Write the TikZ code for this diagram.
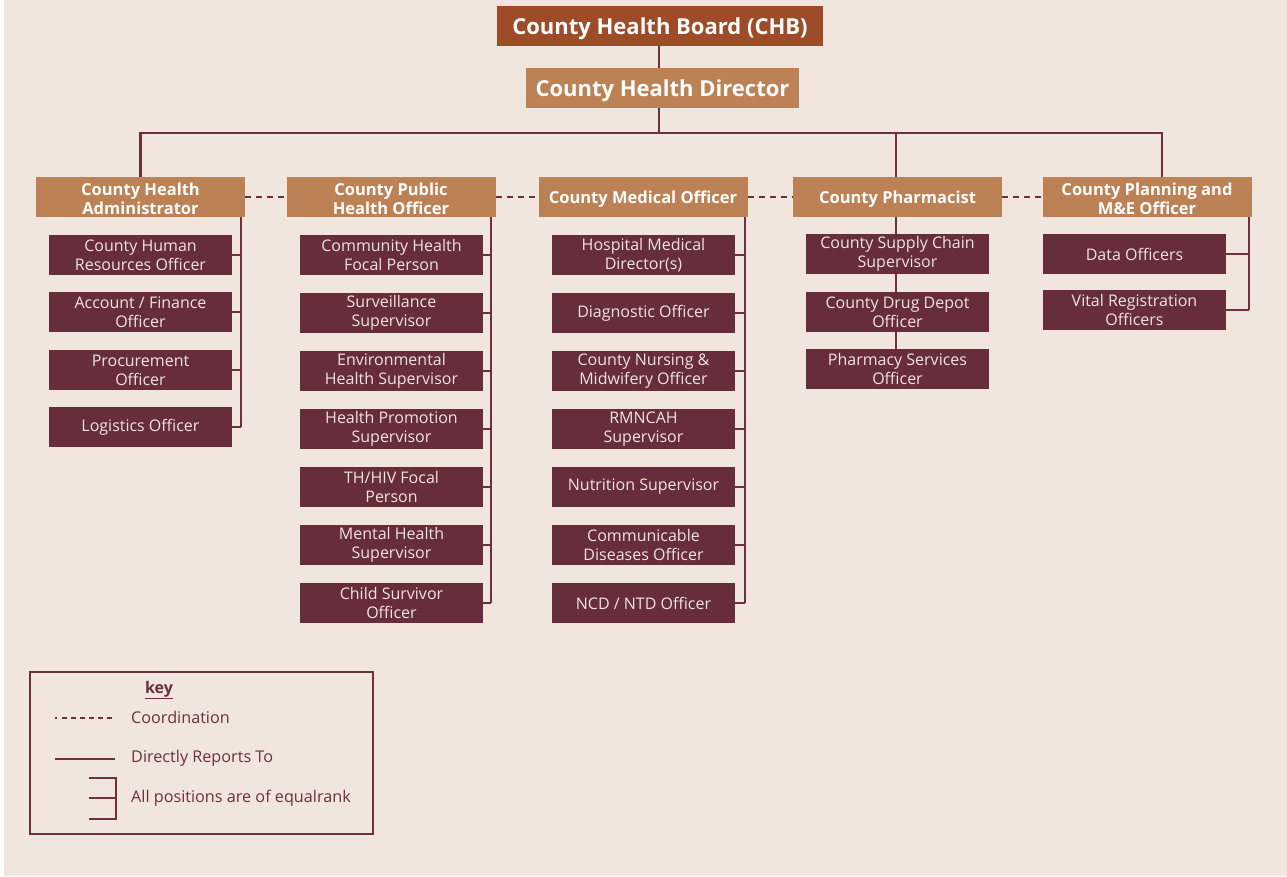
\documentclass[tikz,border=0pt]{standalone}
\usepackage{fontspec}
\setmainfont{Open Sans}
\definecolor{bg}{RGB}{240,230,222}
\definecolor{chbc}{RGB}{157,75,40}
\definecolor{headc}{RGB}{188,130,86}
\definecolor{subc}{RGB}{103,45,59}
\definecolor{linec}{RGB}{108,48,62}
\definecolor{subtext}{RGB}{240,228,222}
\newcommand\hup{\rule{0pt}{17pt}}
\begin{document}
\begin{tikzpicture}[x=1pt,y=-1pt,
  topbox/.style={fill=chbc,text=white,font=\bfseries\fontsize{22}{26}\selectfont,minimum width=326pt,minimum height=40pt,inner sep=0pt,execute at begin node={\rule{0pt}{22pt}}},
  dirbox/.style={fill=headc,text=white,font=\bfseries\fontsize{22}{26}\selectfont,minimum width=273pt,minimum height=40pt,inner sep=0pt,execute at begin node={\rule{0pt}{22pt}}},
  headbox/.style={fill=headc,text=white,font=\bfseries\fontsize{16.5}{19}\selectfont,minimum width=209pt,minimum height=40pt,inner sep=0pt,align=center},
  subbox/.style={fill=subc,text=subtext,font=\fontsize{16}{19}\selectfont,minimum width=183pt,minimum height=40pt,inner sep=0pt,align=center},
  conn/.style={draw=linec,line width=2.3pt},
  coordl/.style={draw=linec,line width=2.3pt,dash pattern=on 6pt off 5pt},
  keytext/.style={text=linec,font=\fontsize{16.2}{19}\selectfont,anchor=west,inner sep=0pt}
]
\useasboundingbox (0,0) rectangle (1287,877);
\fill[white] (0,0) rectangle (1287,877);
\fill[bg] (4,0) rectangle (1287,876);

% top
\node[topbox] (chb) at (660,26) {County Health Board (CHB)};
\node[dirbox] (dir) at (662.5,88) {County Health Director};
\coordinate (bus) at (659,133);

% heads
\node[headbox] (adm) at (140.5,197) {\hup County Health\\Administrator};
\node[headbox] (pub) at (391,197) {\hup County Public\\Health Officer};
\node[headbox] (med) at (643,197) {\hup County Medical Officer};
\node[headbox] (pha) at (897.5,197) {\hup County Pharmacist};
\node[headbox] (pla) at (1147,197) {\hup County Planning and\\M\&E Officer};

% column 1
\node[subbox] (a1) at (140.5,255) {County Human\\Resources Officer};
\node[subbox] (a2) at (140.5,312) {Account / Finance\\Officer};
\node[subbox] (a3) at (140.5,370) {Procurement\\Officer};
\node[subbox] (a4) at (140.5,427) {Logistics Officer};

% column 2
\node[subbox] (b1) at (391.5,255) {Community Health\\Focal Person};
\node[subbox] (b2) at (391.5,313) {Surveillance\\Supervisor};
\node[subbox] (b3) at (391.5,371) {Environmental\\Health Supervisor};
\node[subbox] (b4) at (391.5,429) {Health Promotion\\Supervisor};
\node[subbox] (b5) at (391.5,487) {TH/HIV Focal\\Person};
\node[subbox] (b6) at (391.5,545) {Mental Health\\Supervisor};
\node[subbox] (b7) at (391.5,603) {Child Survivor\\Officer};

% column 3
\node[subbox] (c1) at (643.5,255) {Hospital Medical\\Director(s)};
\node[subbox] (c2) at (643.5,313) {Diagnostic Officer};
\node[subbox] (c3) at (643.5,371) {County Nursing \&\\Midwifery Officer};
\node[subbox] (c4) at (643.5,429) {RMNCAH\\Supervisor};
\node[subbox] (c5) at (643.5,487) {Nutrition Supervisor};
\node[subbox] (c6) at (643.5,545) {Communicable\\Diseases Officer};
\node[subbox] (c7) at (643.5,603) {NCD / NTD Officer};

% column 4
\node[subbox] (d1) at (897.5,254) {County Supply Chain\\Supervisor};
\node[subbox] (d2) at (897.5,312) {County Drug Depot\\Officer};
\node[subbox] (d3) at (897.5,369) {Pharmacy Services\\Officer};

% column 5
\node[subbox] (e1) at (1134.5,254) {Data Officers};
\node[subbox] (e2) at (1134.5,310) {Vital Registration\\Officers};

% main connectors
\draw[conn] (chb.south -| bus) -- (dir.north -| bus);
\draw[conn] (dir.south -| bus) -- (bus);
\draw[conn] (adm.north) |- (bus);
\draw[conn] (bus) -| ([xshift=15pt]pla.north);
\draw[conn] ([xshift=-1.5pt]pha.north) -- ([xshift=-1.5pt]pha.north |- bus);

% coordination
\draw[coordl] (adm.east) -- (pub.west);
\draw[coordl] (pub.east) -- (med.west);
\draw[coordl] (med.east) -- (pha.west);
\draw[coordl] (pha.east) -- (pla.west);

% rails
\coordinate (r1) at (241,217);
\coordinate (r2) at (491,217);
\coordinate (r3) at (745,217);
\coordinate (r5) at (1249,217);
\draw[conn] (r1) -- (r1 |- a4.east);
\foreach \n in {a1,a2,a3,a4} \draw[conn] (\n.east) -- (\n.east -| r1);
\draw[conn] (r2) -- (r2 |- b7.east);
\foreach \n in {b1,b2,b3,b4,b5,b6,b7} \draw[conn] (\n.east) -- (\n.east -| r2);
\draw[conn] (r3) -- (r3 |- c7.east);
\foreach \n in {c1,c2,c3,c4,c5,c6,c7} \draw[conn] (\n.east) -- (\n.east -| r3);
\draw[conn] (r5) -- (r5 |- e2.east);
\foreach \n in {e1,e2} \draw[conn] (\n.east) -- (\n.east -| r5);
\draw[conn] ([xshift=-1.5pt]pha.south) -- ([xshift=-1.5pt]d1.north);
\draw[conn] ([xshift=-1.5pt]d1.south) -- ([xshift=-1.5pt]d2.north);
\draw[conn] ([xshift=-1.5pt]d2.south) -- ([xshift=-1.5pt]d3.north);

% key
\draw[draw=linec,line width=2.2pt] (30,672) rectangle (373,834);
\node[text=linec,font=\bfseries\fontsize{16}{19}\selectfont,inner sep=0pt] (keyt) at (159,690) {\underline{key}};
\node[keytext] (k1) at (131,717) {Coordination};
\node[keytext] (k2) at (131,758) {Directly Reports To};
\node[keytext] (k3) at (131,798) {All positions are of equalrank};
\coordinate (kd1) at (55,718);
\coordinate (ks1) at (55,759);
\draw[draw=linec,line width=2.3pt,dash pattern=on 2pt off 5pt on 5pt off 4pt on 5pt off 4pt on 5pt off 4pt on 5pt off 4pt on 5pt off 4pt on 5pt off 4pt] (kd1) -- ([xshift=-19pt]kd1 -| k1.west);
\draw[conn] (ks1) -- ([xshift=-16pt]ks1 -| k2.west);
\coordinate (kb1) at (89,778);
\coordinate (kb2) at (89,798);
\coordinate (kb3) at (89,819);
\coordinate (kbr) at (116,778);
\draw[conn] (kb1) -- (kbr) -- (kbr |- kb3) -- (kb3);
\draw[conn] (kb2) -- (kb2 -| kbr);
\end{tikzpicture}
\end{document}
